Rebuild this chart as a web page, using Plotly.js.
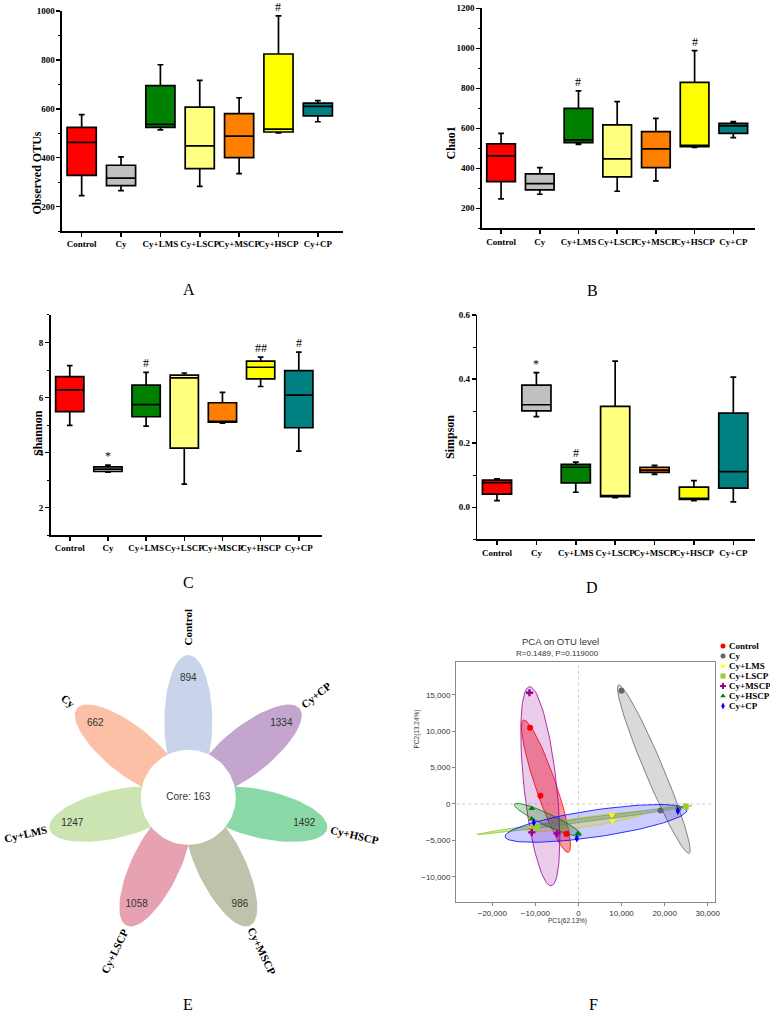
<!DOCTYPE html>
<html>
<head>
<meta charset="utf-8">
<script src="https://cdn.plot.ly/plotly-3.0.1.min.js"></script>
<style>body{margin:0;background:#fff}#fig{width:770px;height:1025px}</style>
</head>
<body>
<div id="fig"></div>
<script>
// groups shared by the box plots and the PCA
var groups = ['Control', 'Cy', 'Cy+LMS', 'Cy+LSCP', 'Cy+MSCP', 'Cy+HSCP', 'Cy+CP'];
var boxColors = ['#ff0000', '#c0c0c0', '#008000', '#ffff80', '#ff8000', '#ffff00', '#008080'];

// A - Observed OTUs
var otuMin = [245, 265, 514, 283, 335, 501, 547];
var otuQ1  = [328, 286, 524, 355, 400, 505, 571];
var otuMed = [463, 316, 536, 448, 488, 517, 610];
var otuQ3  = [524, 369, 695, 607, 580, 824, 623];
var otuMax = [576, 403, 780, 716, 645, 980, 633];
var otuMarks = ['', '', '', '', '', '#', ''];

// B - Chao1
var chaoMin = [247, 270, 520, 285, 337, 505, 553];
var chaoQ1  = [333, 292, 528, 357, 403, 508, 575];
var chaoMed = [462, 323, 542, 447, 497, 515, 612];
var chaoQ3  = [522, 372, 700, 617, 583, 830, 625];
var chaoMax = [575, 403, 787, 733, 650, 988, 633];
var chaoMarks = ['', '', '#', '', '', '#', ''];

// C - Shannon
var shanMin = [4.99, 3.29, 4.96, 2.85, 5.07, 6.40, 4.05];
var shanQ1  = [5.49, 3.31, 5.30, 4.16, 5.10, 6.68, 4.90];
var shanMed = [6.28, 3.40, 5.74, 6.71, 5.12, 7.10, 6.09];
var shanQ3  = [6.76, 3.48, 6.45, 6.81, 5.81, 7.32, 6.98];
var shanMax = [7.16, 3.54, 6.91, 6.89, 6.19, 7.47, 7.65];
var shanMarks = ['', '*', '#', '', '', '##', '#'];

// D - Simpson
var simpMin = [0.021, 0.283, 0.047, 0.030, 0.103, 0.021, 0.017];
var simpQ1  = [0.041, 0.301, 0.076, 0.033, 0.109, 0.025, 0.060];
var simpMed = [0.077, 0.320, 0.125, 0.036, 0.116, 0.027, 0.111];
var simpQ3  = [0.085, 0.381, 0.134, 0.315, 0.125, 0.063, 0.294];
var simpMax = [0.089, 0.420, 0.141, 0.456, 0.131, 0.083, 0.406];
var simpMarks = ['', '*', '#', '', '', '', ''];

// E - flower venn (clockwise from top)
var vennGroups = ['Control', 'Cy+CP', 'Cy+HSCP', 'Cy+MSCP', 'Cy+LSCP', 'Cy+LMS', 'Cy'];
var vennCounts = [894, 1334, 1492, 986, 1058, 1247, 662];
var vennColors = ['rgba(165,183,220,0.6)', 'rgba(157,105,172,0.6)', 'rgba(60,190,105,0.6)',
                  'rgba(150,153,115,0.6)', 'rgba(215,100,125,0.6)', 'rgba(170,210,127,0.6)',
                  'rgba(248,150,105,0.6)'];
var coreCount = 163;

// F - PCA points
var pc1 = [
  [-11223, -8824, -2786],
  [9985, 19040, 23220],
  [7740, 7895, -10836],
  [24900, -10500, -9600],
  [-11378, -10836, -4954],
  [-10836, -10836, -155],
  [-10370, -387, 23065]
];
var pc2 = [
  [10467, 1126, -4140],
  [15550, -889, -614],
  [-1530, -2309, -3270],
  [-340, -3300, -3200],
  [15275, -3911, -4049],
  [-614, -2080, -4049],
  [-2538, -4736, -981]
];
// confidence ellipses: ends of the long axis + half width (PC1 units)
var ellX1 = [-12771, 9288, -12229, -23590, -11377, -14861, -17028];
var ellY1 = [11520, 16328, -3682, -4176, 16099, -46, -4506];
var ellX2 = [-2322, 25697, 15093, 26330, -6347, 619, 25155];
var ellY2 = [-6659, -6796, -1301, -247, -11238, -4323, -843];
var ellHalf = [2380, 2140, 1160, 460, 3785, 1400, 3130];

var pcaColors = ['#ff0000', '#666666', '#ffff00', '#99cc33', '#990099', '#008000', '#0000ff'];
var pcaFills = ['rgba(255,0,0,0.4)', 'rgba(128,128,128,0.3)', 'rgba(255,255,0,0.3)',
                'rgba(154,205,50,0.5)', 'rgba(153,0,153,0.2)', 'rgba(0,128,0,0.25)',
                'rgba(0,0,255,0.2)'];
var pcaSymbols = ['circle', 'circle', 'triangle-down', 'square', 'cross', 'triangle-up', 'diamond-tall'];

var serif = 'Liberation Serif';
var sans = 'Liberation Sans';
var traces = [];
var annotations = [];
var shapes = [];

function boxPanel(n, mins, q1, med, q3, maxs, marks, yTitle, titleX, titleY) {
    var xa = n === 1 ? 'x' : 'x' + n;
    var ya = n === 1 ? 'y' : 'y' + n;
    for (var i = 0; i < groups.length; i++) {
        traces.push({
            type: 'box', x: [groups[i]],
            lowerfence: [mins[i]], q1: [q1[i]], median: [med[i]], q3: [q3[i]], upperfence: [maxs[i]],
            fillcolor: boxColors[i], line: { color: '#000', width: 1.7 },
            width: 0.74, whiskerwidth: 0.2, boxpoints: false,
            xaxis: xa, yaxis: ya, showlegend: false, hoverinfo: 'skip'
        });
        if (marks[i]) {
            annotations.push({
                xref: xa, yref: ya, x: groups[i], y: maxs[i], text: marks[i],
                showarrow: false, yanchor: 'bottom', yshift: 0,
                font: { family: serif, size: 12, color: '#000' }
            });
        }
    }
    annotations.push({
        xref: 'paper', yref: 'paper', x: titleX / 770, y: 1 - titleY / 1025, text: yTitle,
        textangle: -90, showarrow: false,
        font: { family: serif, size: 12, color: '#000', weight: 'bold' }
    });
}

boxPanel(1, otuMin, otuQ1, otuMed, otuQ3, otuMax, otuMarks, 'Observed OTUs', 27, 130);
boxPanel(2, chaoMin, chaoQ1, chaoMed, chaoQ3, chaoMax, chaoMarks, 'Chao1', 450, 125);
boxPanel(3, shanMin, shanQ1, shanMed, shanQ3, shanMax, shanMarks, 'Shannon', 29, 433);
boxPanel(4, simpMin, simpQ1, simpMed, simpQ3, simpMax, simpMarks, 'Simpson', 450, 437);

function catAxis(domain, right, anchor) {
    return {
        domain: domain, range: [-0.5, right], type: 'category', categoryarray: groups,
        showline: true, linecolor: '#000', linewidth: 1.5, ticks: 'outside', ticklen: 4,
        tickwidth: 1.5, tickcolor: '#000', showgrid: false, zeroline: false, anchor: anchor,
        tickangle: 0, automargin: false,
        tickfont: { family: serif, size: 9, color: '#000', weight: 'bold' }
    };
}
function valAxis(domain, range, dtick, fmt, anchor) {
    return {
        domain: domain, range: range, dtick: dtick, tick0: 0, tickformat: fmt,
        showline: true, linecolor: '#000', linewidth: 1.5, ticks: 'outside', ticklen: 4,
        tickwidth: 1.5, tickcolor: '#000', showgrid: false, zeroline: false, anchor: anchor,
        automargin: false,
        minor: { dtick: dtick / 2, ticks: 'outside', ticklen: 2.5, tickwidth: 1, tickcolor: '#000', showgrid: false },
        tickfont: { family: serif, size: 9, color: '#000', weight: 'bold' }
    };
}

// E - petals
var petalA = 66.7, petalB = 24, petalD = 75.7, coreR = 47.5;
for (var k = 0; k < vennGroups.length; k++) {
    var th = (90 - k * 360 / 7) * Math.PI / 180;
    var px = [], py = [];
    for (var s = 0; s <= 72; s++) {
        var t = s / 72 * 2 * Math.PI;
        var lx = petalD + petalA * Math.cos(t), ly = petalB * Math.sin(t);
        px.push(lx * Math.cos(th) - ly * Math.sin(th));
        py.push(lx * Math.sin(th) + ly * Math.cos(th));
    }
    traces.push({
        type: 'scatter', mode: 'lines', x: px, y: py, fill: 'toself', fillcolor: vennColors[k],
        line: { width: 0 }, xaxis: 'x5', yaxis: 'y5', showlegend: false, hoverinfo: 'skip'
    });
}
var cx = [], cy = [];
for (var s = 0; s <= 90; s++) {
    cx.push(coreR * Math.cos(s / 90 * 2 * Math.PI));
    cy.push(coreR * Math.sin(s / 90 * 2 * Math.PI));
}
traces.push({
    type: 'scatter', mode: 'lines', x: cx, y: cy, fill: 'toself', fillcolor: '#fff',
    line: { width: 0 }, xaxis: 'x5', yaxis: 'y5', showlegend: false, hoverinfo: 'skip'
});
var nx = [0], ny = [0], nt = ['Core: ' + coreCount];
for (var k = 0; k < vennGroups.length; k++) {
    var deg = 90 - k * 360 / 7, th = deg * Math.PI / 180;
    nx.push(119 * Math.cos(th));
    ny.push(119 * Math.sin(th));
    nt.push(String(vennCounts[k]));
    var r = petalD + petalA + 5 + vennGroups[k].length * 3.25;
    var ang = Math.cos(th) >= -0.01 ? -deg : -(deg - 180);
    while (ang > 180) ang -= 360;
    while (ang < -180) ang += 360;
    annotations.push({
        xref: 'x5', yref: 'y5', x: r * Math.cos(th), y: r * Math.sin(th), text: vennGroups[k],
        textangle: ang, showarrow: false,
        font: { family: serif, size: 11, color: '#000', weight: 'bold' }
    });
}
traces.push({
    type: 'scatter', mode: 'text', x: nx, y: ny, text: nt,
    textfont: { family: sans, size: 10, color: '#333' },
    xaxis: 'x5', yaxis: 'y5', showlegend: false, hoverinfo: 'skip'
});

// F - PCA
var kY = 1.69; // pixel ratio of one PC2 unit to one PC1 unit
for (var g = 0; g < groups.length; g++) {
    var X1 = ellX1[g], Y1 = ellY1[g] * kY, X2 = ellX2[g], Y2 = ellY2[g] * kY;
    var mx = (X1 + X2) / 2, my = (Y1 + Y2) / 2;
    var a = Math.hypot(X2 - X1, Y2 - Y1) / 2;
    var ux = (X2 - X1) / (2 * a), uy = (Y2 - Y1) / (2 * a);
    var ex = [], ey = [];
    for (var s = 0; s <= 90; s++) {
        var t = s / 90 * 2 * Math.PI;
        var ax = a * Math.cos(t), bx = ellHalf[g] * Math.sin(t);
        ex.push(mx + ax * ux - bx * uy);
        ey.push((my + ax * uy + bx * ux) / kY);
    }
    traces.push({
        type: 'scatter', mode: 'lines', x: ex, y: ey, fill: 'toself', fillcolor: pcaFills[g],
        line: { color: pcaColors[g], width: 0.8 }, xaxis: 'x6', yaxis: 'y6',
        showlegend: false, hoverinfo: 'skip'
    });
}
for (var g = 0; g < groups.length; g++) {
    traces.push({
        type: 'scatter', mode: 'markers', x: pc1[g], y: pc2[g], name: groups[g],
        marker: { color: pcaColors[g], symbol: pcaSymbols[g], size: 6 },
        xaxis: 'x6', yaxis: 'y6', showlegend: false
    });
    // legend swatch
    traces.push({
        type: 'scatter', mode: 'markers', x: [5], y: [g], name: groups[g],
        marker: { color: pcaColors[g], symbol: pcaSymbols[g], size: 5 },
        xaxis: 'x7', yaxis: 'y7', showlegend: false, hoverinfo: 'skip'
    });
    annotations.push({
        xref: 'x7', yref: 'y7', x: 9, y: g, text: groups[g], xanchor: 'left', showarrow: false,
        font: { family: serif, size: 9, color: '#000', weight: 'bold' }
    });
}
shapes.push({ type: 'line', xref: 'x6', yref: 'y6 domain', x0: 0, x1: 0, y0: 0, y1: 1,
    line: { color: '#cccccc', width: 1, dash: 'dot' }, layer: 'below' });
shapes.push({ type: 'line', xref: 'x6 domain', yref: 'y6', x0: 0, x1: 1, y0: 0, y1: 0,
    line: { color: '#cccccc', width: 1, dash: 'dot' }, layer: 'below' });

annotations.push(
    { xref: 'paper', yref: 'paper', x: 601 / 770, y: 1 - 641 / 1025, text: 'PCA on OTU level',
      showarrow: false, font: { family: sans, size: 9.5, color: '#333' } },
    { xref: 'paper', yref: 'paper', x: 601 / 770, y: 1 - 653.5 / 1025, text: 'R=0.1489, P=0.119000',
      showarrow: false, font: { family: sans, size: 8, color: '#333' } },
    { xref: 'paper', yref: 'paper', x: 589 / 770, y: 1 - 927 / 1025, text: 'PC1(62.13%)',
      showarrow: false, font: { family: sans, size: 6.5, color: '#333' } },
    { xref: 'paper', yref: 'paper', x: 416 / 770, y: 1 - 750 / 1025, text: 'PC2(13.24%)',
      textangle: -90, showarrow: false, font: { family: sans, size: 6.5, color: '#333' } }
);

// panel letters
var letters = ['A', 'B', 'C', 'D', 'E', 'F'];
var letterX = [181, 600, 181, 600, 181, 600];
var letterY = [279, 280, 582, 587, 1015, 1015];
for (var i = 0; i < letters.length; i++) {
    annotations.push({
        xref: 'paper', yref: 'paper', x: letterX[i] / 770, y: 1 - letterY[i] / 1025, text: letters[i],
        showarrow: false, font: { family: serif, size: 16, color: '#000' }
    });
}

var hidden = { visible: false, fixedrange: true };
var layout = {
    width: 770, height: 1025, margin: { l: 0, r: 0, t: 0, b: 0 },
    paper_bgcolor: '#fff', plot_bgcolor: 'rgba(0,0,0,0)', showlegend: false,
    xaxis: catAxis([0.0805, 0.4455], 6.64, 'y'),
    yaxis: valAxis([0.7746, 0.9893], [100, 1000], 200, '', 'x'),
    xaxis2: catAxis([0.6256, 0.9805], 6.56, 'y2'),
    yaxis2: valAxis([0.7773, 0.9919], [100, 1200], 200, '', 'x2'),
    xaxis3: catAxis([0.0658, 0.4178], 6.6, 'y3'),
    yaxis3: valAxis([0.478, 0.6927], [1, 9], 2, '', 'x3'),
    xaxis4: catAxis([0.6199, 0.9805], 6.55, 'y4'),
    yaxis4: valAxis([0.4738, 0.6927], [-0.1, 0.6], 0.2, '.1f', 'x4'),
    xaxis5: Object.assign({ domain: [0, 0.5], range: [-188.3, 196.7], anchor: 'y5' }, hidden),
    yaxis5: Object.assign({ domain: [0.0244, 0.4146], range: [-202.7, 197.3], anchor: 'x5' }, hidden),
    xaxis6: {
        domain: [0.5926, 0.9286], range: [-28360, 31700], anchor: 'y6', dtick: 10000, tick0: 0,
        tickformat: ',', showline: true, mirror: true, linecolor: '#888', linewidth: 1.3,
        ticks: 'outside', ticklen: 3, tickcolor: '#888', showgrid: false, zeroline: false,
        tickfont: { family: sans, size: 8, color: '#333' }
    },
    yaxis6: {
        domain: [0.1203, 0.3538], range: [-13430, 19450], anchor: 'x6', dtick: 5000, tick0: 0,
        tickformat: ',', showline: true, mirror: true, linecolor: '#888', linewidth: 1.3,
        ticks: 'outside', ticklen: 3, tickcolor: '#888', showgrid: false, zeroline: false,
        tickfont: { family: sans, size: 8, color: '#333' }
    },
    xaxis7: Object.assign({ domain: [718 / 770, 1], range: [0, 52], anchor: 'y7' }, hidden),
    yaxis7: Object.assign({ domain: [1 - 711 / 1025, 1 - 641 / 1025], range: [6.5, -0.5], anchor: 'x7' }, hidden),
    annotations: annotations,
    shapes: shapes
};

Plotly.newPlot('fig', traces, layout, { staticPlot: true });
</script>
</body>
</html>
